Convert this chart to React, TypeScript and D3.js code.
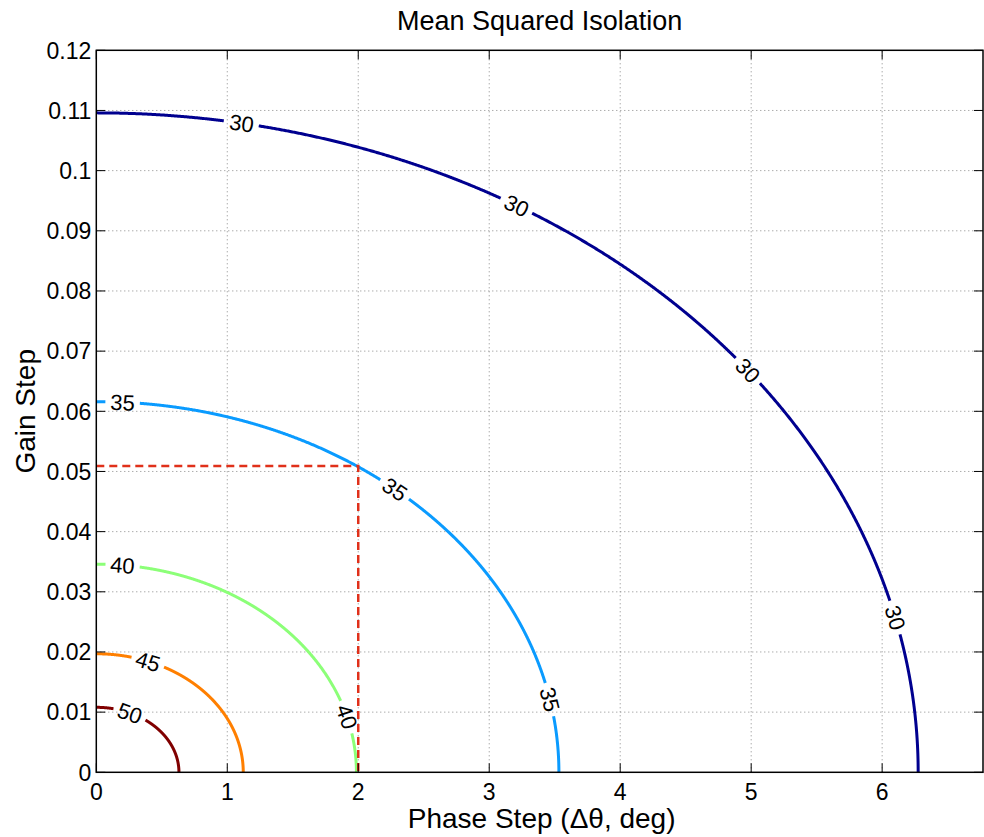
import React, { useEffect, useRef } from 'react';
import * as d3 from 'd3';

// contour levels (dB) and where each quarter-ellipse meets the axes
const levels = [30, 35, 40, 45, 50];
const gainIntercepts = [0.1096, 0.0616, 0.0346, 0.0197, 0.0108];
const phaseIntercepts = [6.275, 3.532, 1.986, 1.122, 0.631];
const levelColors = ['#00008f', '#0a9bff', '#8cff78', '#ff7f00', '#800000'];
// phase step at which each inline label sits
const labelPhases = [
  [1.11, 3.21, 4.975, 6.1],
  [0.2, 2.28, 3.463],
  [0.2, 1.914],
  [0.395],
  [0.257],
];
// design point
const refPhase = 2;
const refGain = 0.0509;

const xTicks = [0, 1, 2, 3, 4, 5, 6];
const yTicks = [0, 0.01, 0.02, 0.03, 0.04, 0.05, 0.06, 0.07, 0.08, 0.09, 0.1, 0.11, 0.12];

export default function App() {
  const ref = useRef<SVGSVGElement>(null);

  useEffect(() => {
    draw();
    // eslint-disable-next-line react-hooks/exhaustive-deps
  }, []);

  function draw() {
    const width = 984;
    const height = 837;
    const margin = { top: 50.3, right: 1, bottom: 64.7, left: 96.3 };
    const svg = d3.select(ref.current);
    svg.selectAll('*').remove();
    const font = "'Liberation Sans', Arial, Helvetica, sans-serif";

    const x = d3.scaleLinear().domain([0, 6.77]).range([margin.left, width - margin.right]);
    const y = d3.scaleLinear().domain([0, 0.12]).range([height - margin.bottom, margin.top]);
    const [x0, x1] = x.range();
    const [y0, y1] = y.range();

    svg.append('rect').attr('width', width).attr('height', height).attr('fill', '#fff');

    // grid
    const grid = svg.append('g').attr('stroke', '#888').attr('stroke-width', 1).attr('stroke-dasharray', '1,3');
    grid
      .selectAll('line.gx')
      .data(xTicks.filter((d) => d > 0))
      .enter()
      .append('line')
      .attr('x1', (d) => x(d))
      .attr('x2', (d) => x(d))
      .attr('y1', y0)
      .attr('y2', y1);
    grid
      .selectAll('line.gy')
      .data(yTicks.filter((d) => d > 0 && d < 0.12))
      .enter()
      .append('line')
      .attr('x1', x0)
      .attr('x2', x1)
      .attr('y1', (d) => y(d))
      .attr('y2', (d) => y(d));

    // contours
    const line = d3
      .line<[number, number, boolean]>()
      .defined((d) => d[2])
      .x((d) => d[0])
      .y((d) => d[1]);
    const labelLayer = svg.append('g');
    levels.forEach((lev, i) => {
      const a = phaseIntercepts[i];
      const b = gainIntercepts[i];
      const anchors = labelPhases[i].map((p) => {
        const g = b * Math.sqrt(Math.max(0, 1 - (p / a) * (p / a)));
        return [x(p), y(g)];
      });
      const n = 1200;
      const pts: [number, number, boolean][] = d3.range(n + 1).map((k) => {
        const t = (k / n) * (Math.PI / 2);
        const px = x(a * Math.cos(t));
        const py = y(b * Math.sin(t));
        const ok = anchors.every(([ax, ay]) => Math.hypot(px - ax, py - ay) > 17);
        return [px, py, ok];
      });
      svg
        .append('path')
        .attr('d', line(pts))
        .attr('fill', 'none')
        .attr('stroke', levelColors[i])
        .attr('stroke-width', 3);
      anchors.forEach(([ax, ay], j) => {
        const p = labelPhases[i][j];
        const dp = a * 0.002;
        const pA = Math.max(0, p - dp);
        const pB = Math.min(a, p + dp);
        const gA = b * Math.sqrt(Math.max(0, 1 - (pA / a) ** 2));
        const gB = b * Math.sqrt(Math.max(0, 1 - (pB / a) ** 2));
        let ang = (Math.atan2(y(gB) - y(gA), x(pB) - x(pA)) * 180) / Math.PI;
        if (ang > 90) ang -= 180;
        if (ang < -90) ang += 180;
        labelLayer
          .append('text')
          .attr('transform', `translate(${ax},${ay}) rotate(${ang})`)
          .attr('text-anchor', 'middle')
          .attr('dy', '0.36em')
          .attr('font-family', font)
          .attr('font-size', 22)
          .attr('fill', '#000')
          .text(String(lev));
      });
    });

    // design point guides
    svg
      .append('path')
      .attr('d', `M${x(0)},${y(refGain)}H${x(refPhase)}V${y(0)}`)
      .attr('fill', 'none')
      .attr('stroke', '#e0301a')
      .attr('stroke-width', 2.5)
      .attr('stroke-dasharray', '8,5');

    // frame and ticks
    const frame = svg.append('g').attr('stroke', '#000').attr('stroke-width', 1);
    frame
      .append('rect')
      .attr('x', x0)
      .attr('y', y1)
      .attr('width', x1 - x0)
      .attr('height', y0 - y1)
      .attr('fill', 'none')
      .attr('stroke-width', 1.5);
    const tl = 9;
    xTicks.forEach((d) => {
      frame.append('line').attr('x1', x(d)).attr('x2', x(d)).attr('y1', y0).attr('y2', y0 - tl);
      frame.append('line').attr('x1', x(d)).attr('x2', x(d)).attr('y1', y1).attr('y2', y1 + tl);
    });
    yTicks.forEach((d) => {
      frame.append('line').attr('x1', x0).attr('x2', x0 + tl).attr('y1', y(d)).attr('y2', y(d));
      frame.append('line').attr('x1', x1).attr('x2', x1 - tl).attr('y1', y(d)).attr('y2', y(d));
    });

    // tick labels
    svg
      .append('g')
      .selectAll('text')
      .data(xTicks)
      .enter()
      .append('text')
      .attr('x', (d) => x(d))
      .attr('y', y0 + 28)
      .attr('text-anchor', 'middle')
      .attr('font-family', font)
      .attr('font-size', 23)
      .text((d) => String(d));
    svg
      .append('g')
      .selectAll('text')
      .data(yTicks)
      .enter()
      .append('text')
      .attr('x', x0 - 5)
      .attr('y', (d) => y(d))
      .attr('dy', '0.36em')
      .attr('text-anchor', 'end')
      .attr('font-family', font)
      .attr('font-size', 23)
      .text((d) => String(d));

    // titles
    svg
      .append('text')
      .attr('x', (x0 + x1) / 2)
      .attr('y', 30)
      .attr('text-anchor', 'middle')
      .attr('font-family', font)
      .attr('font-size', 27)
      .text('Mean Squared Isolation');
    svg
      .append('text')
      .attr('x', (x0 + x1) / 2 + 2)
      .attr('y', 828)
      .attr('text-anchor', 'middle')
      .attr('font-family', font)
      .attr('font-size', 28)
      .text('Phase Step (\u0394\u03b8, deg)');
    svg
      .append('text')
      .attr('transform', `translate(35,${(y0 + y1) / 2}) rotate(-90)`)
      .attr('text-anchor', 'middle')
      .attr('font-family', font)
      .attr('font-size', 28)
      .text('Gain Step');
  }

  return (
    <svg
      ref={ref}
      width={984}
      height={837}
      style={{ position: 'absolute', left: 0, top: 0, display: 'block' }}
    />
  );
}
